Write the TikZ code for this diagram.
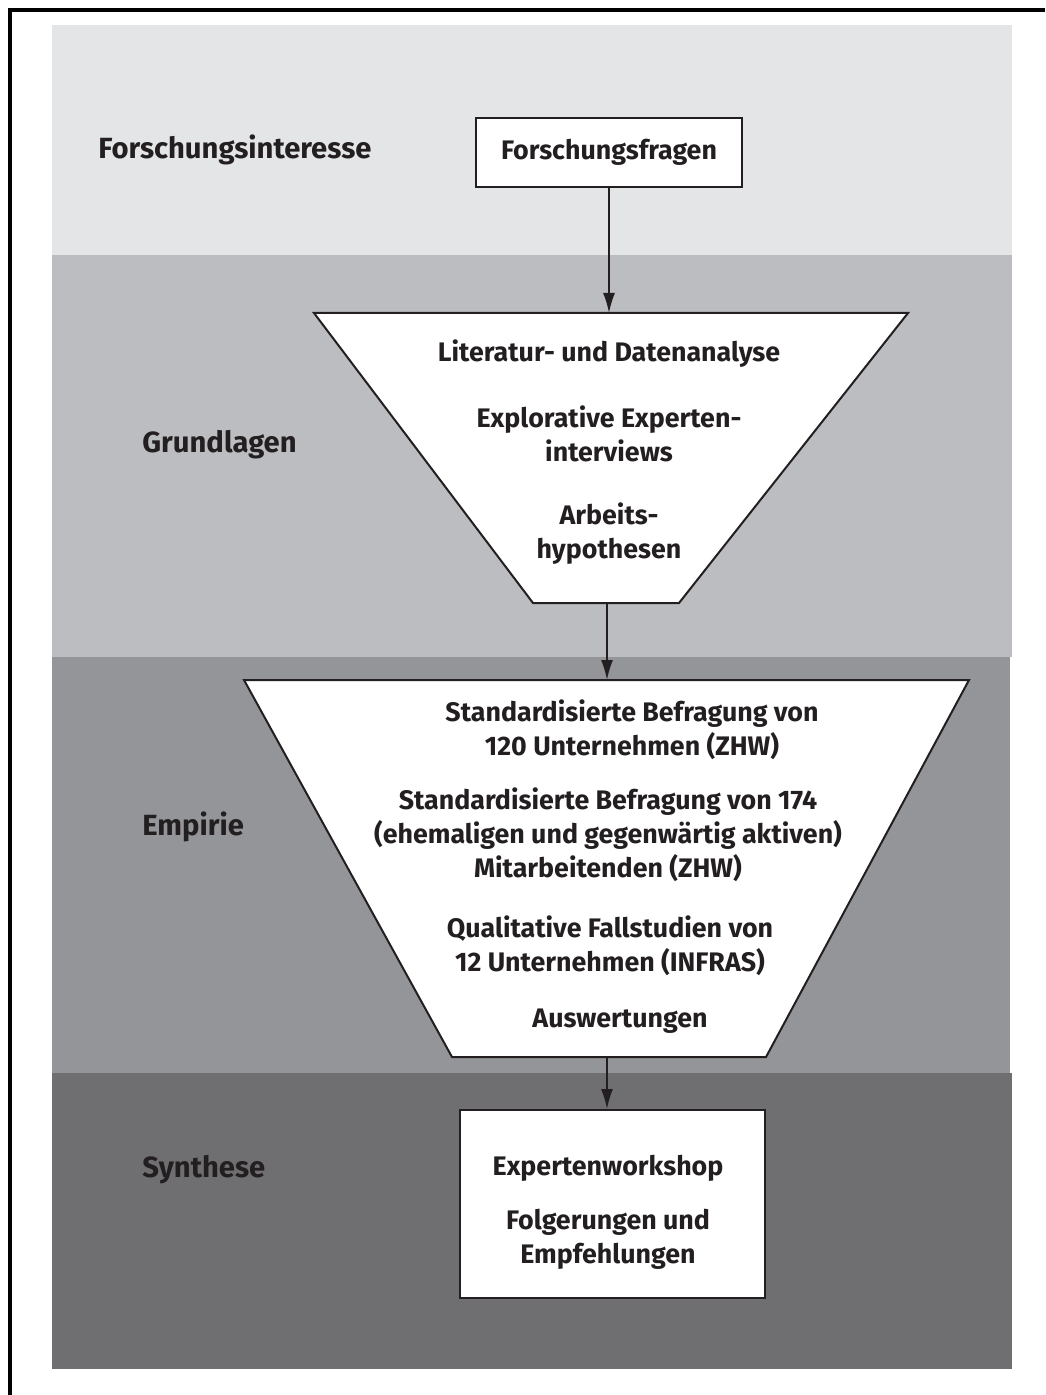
\documentclass[tikz,border=0pt]{standalone}
\usepackage{fontspec}
\setmainfont{Fira Sans}
\usetikzlibrary{arrows.meta}

\definecolor{bandA}{HTML}{E4E5E7}
\definecolor{bandB}{HTML}{BCBDC1}
\definecolor{bandC}{HTML}{939598}
\definecolor{bandD}{HTML}{6F6F71}
\definecolor{ink}{HTML}{231F20}

\begin{document}
\begin{tikzpicture}[x=0.5pt, y=-0.5pt, line join=miter,
    >={Latex[length=10pt,width=6pt]},
    txt/.style={text=ink, font=\fontsize{13.4}{17}\selectfont\bfseries, align=center, inner sep=0pt},
    lbl/.style={txt, font=\fontsize{14.6}{17}\selectfont\bfseries, anchor=west},
    box/.style={draw=ink, fill=white, line width=1pt},
    flow/.style={->, draw=ink, line width=0.9pt}] % coordinates in px of the reference

  \useasboundingbox (0,0) rectangle (1045,1395);

  % bands
  \fill[bandA] (52,25) rectangle (1012,255);
  \fill[bandB] (52,255) rectangle (1012,657);
  \fill[bandC] (52,657) rectangle (1010,1073);
  \fill[bandD] (52,1073) rectangle (1012,1369);

  % frame (top and left only)
  \draw[black, line width=2pt] (10,1395) -- (10,10) -- (1045,10);

  % phase labels
  \node[lbl] (fi) at (98,150) {Forschungsinteresse};
  \node[lbl] (gl) at (142,445) {Grundlagen};
  \node[lbl] (em) at (142,827) {Empirie};
  \node[lbl] (sy) at (142,1170) {Synthese};

  % research questions
  \node[box, txt, minimum width=133pt, minimum height=34.5pt] (ff) at (609,152.5) {Forschungsfragen};

  % funnel 1
  \draw[box] (314,313) -- (908,313) -- (679,603) -- (533,603) -- cycle;
  \coordinate (t1top) at (609,313);
  \coordinate (t1bot) at (607,603);
  \node[txt] (lit) at (609,354) {Literatur- und Datenanalyse};
  \node[txt] (exp) at (609,434) {Explorative Experten-\\interviews};
  \node[txt] (hyp) at (609,534) {Arbeits-\\hypothesen};

  % funnel 2
  \draw[box] (244,680) -- (969,680) -- (766,1057) -- (452,1057) -- cycle;
  \coordinate (t2top) at (607,680);
  \coordinate (t2bot) at (607,1057);
  \node[txt] (bu) at (632,730) {Standardisierte Befragung von\\120 Unternehmen (ZHW)};
  \node[txt] (bm) at (608,835) {Standardisierte Befragung von 174\\(ehemaligen und gegenwärtig aktiven)\\Mitarbeitenden (ZHW)};
  \node[txt] (fs) at (610,946) {Qualitative Fallstudien von\\12 Unternehmen (INFRAS)};
  \node[txt] (aw) at (620,1021) {Auswertungen};

  % synthesis
  \node[box, minimum width=152.5pt, minimum height=94pt] (syn) at (612,1204) {};
  \node[txt] (ew) at (608,1168) {Expertenworkshop};
  \node[txt] (fe) at (608,1239) {Folgerungen und\\Empfehlungen};

  % connectors
  \draw[flow] (ff.south) -- (t1top);
  \draw[flow] (t1bot) -- (t2top);
  \draw[flow] (t2bot) -- (syn.north -| t2bot);
\end{tikzpicture}
\end{document}
